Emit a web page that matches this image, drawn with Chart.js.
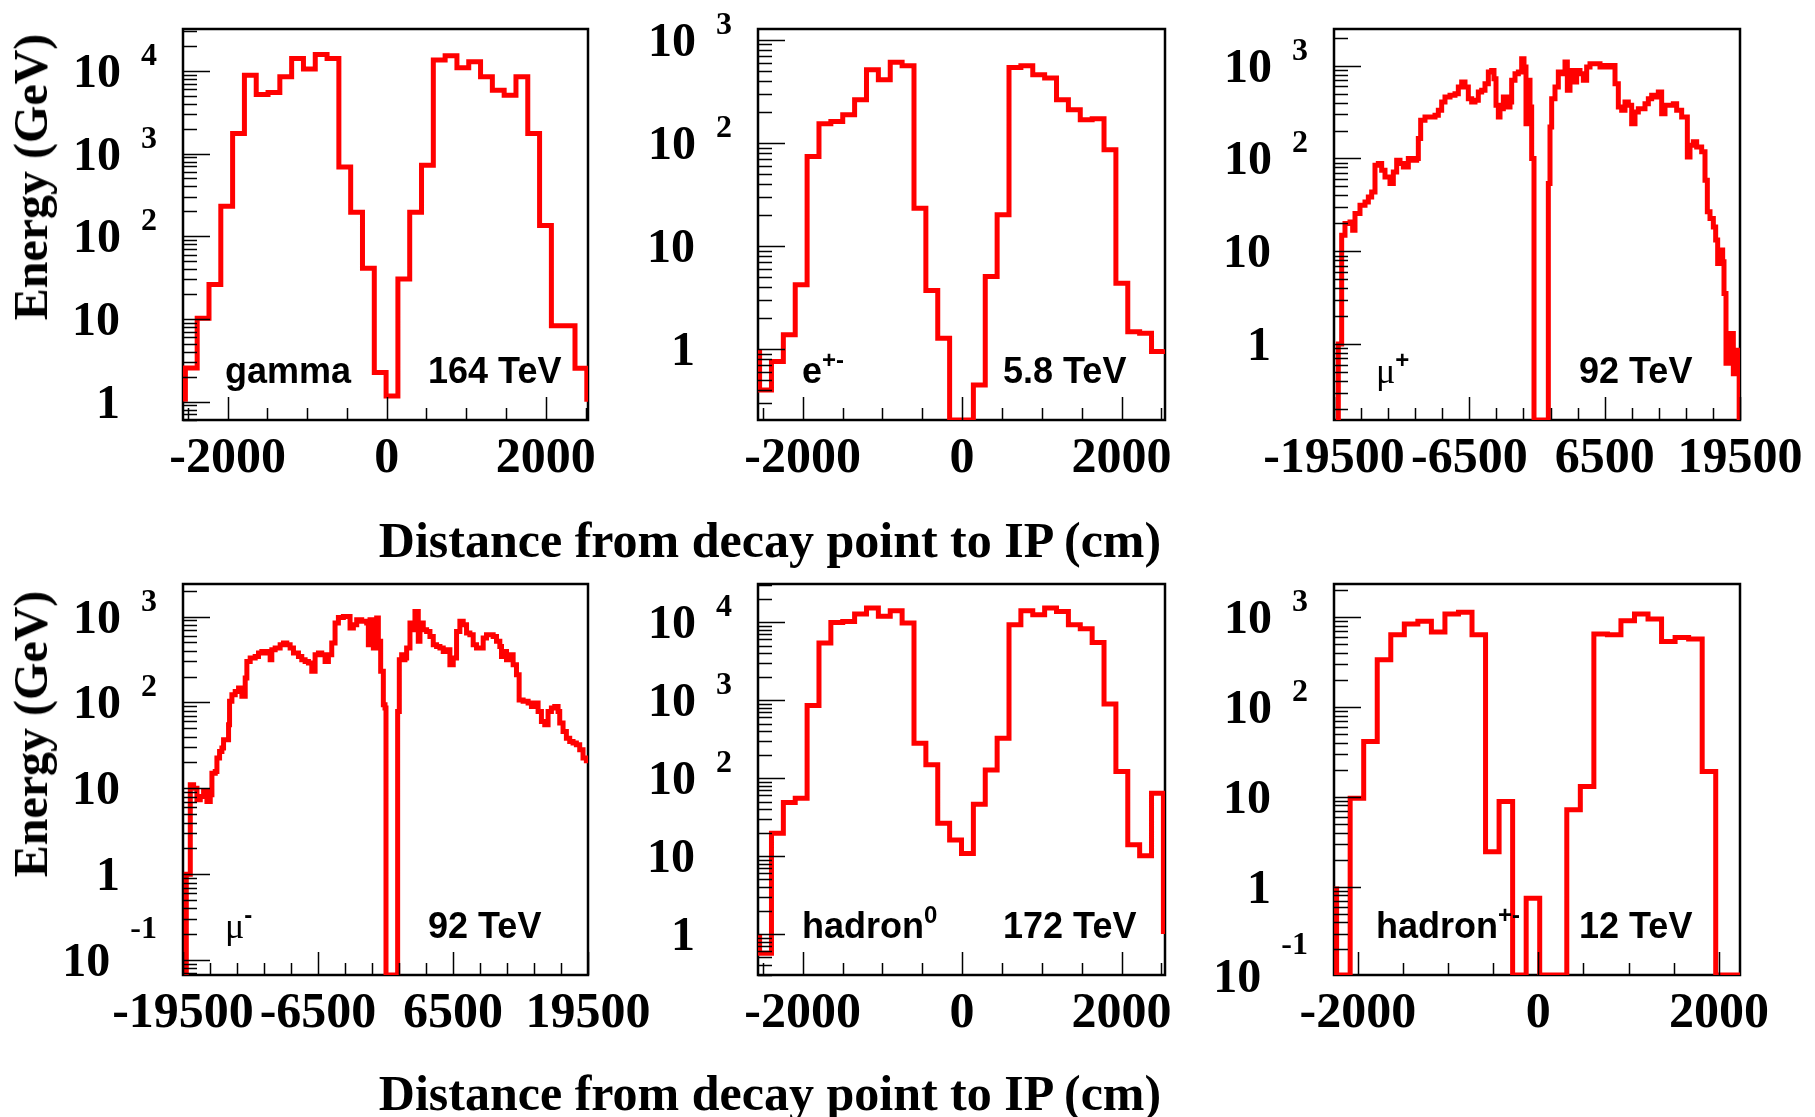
<!DOCTYPE html>
<html>
<head>
<meta charset="utf-8">
<title>Energy vs distance from decay point to IP</title>
<script src="https://cdn.jsdelivr.net/npm/chart.js@4.4.1/dist/chart.umd.min.js"></script>
<style>
  html, body { margin: 0; padding: 0; background: #fff; }
  #page { position: relative; width: 1815px; height: 1117px; overflow: hidden; background: #fff; }
  #page canvas { position: absolute; }
  .txt { position: absolute; white-space: nowrap; line-height: 1; color: #000; }
  .serif { font-family: "Liberation Serif", "Times New Roman", serif; font-weight: bold; }
  .sans { font-family: "Liberation Sans", Arial, sans-serif; font-weight: bold; font-size: 36px; }
  .sans sup { font-size: 24px; vertical-align: baseline; position: relative; top: -15px; }
  .mu { font-family: "Liberation Serif", "Times New Roman", serif; font-weight: normal; font-size: 36px; }
</style>
</head>
<body>
<div id="page"></div>
<script>
// ---- data ----

// tick labels
const shortXLabels = [-2000, 0, 2000];
const muonXLabels = [-19500, -6500, 6500, 19500];

// panel texts
const panelTags = ['gamma', 'e<sup>+-</sup>', '<span class="mu">\u03bc</span><sup>+</sup>',
                   '<span class="mu">\u03bc</span><sup>-</sup>', 'hadron<sup>0</sup>', 'hadron<sup>+-</sup>'];
const panelEnergy = ['164 TeV', '5.8 TeV', '92 TeV', '92 TeV', '172 TeV', '12 TeV'];

// gamma: 34 equal bins (GeV)
const gammaRange = [-2530, 2515];
const gammaEnds = [1, 1];
const gammaE = [2.56, 10.2, 26, 231, 1740, 8850, 5160, 5460, 8460, 14100, 10480, 15780, 14100,
  686, 195, 41, 2.25, 1.17, 30.4, 195, 719, 13460, 15200, 10870, 12850, 8460, 5830, 5070, 8460,
  1740, 135, 8.26, 8.26, 2.54];

// e+-: 34 equal bins
const elecRange = [-2540, 2525];
const elecEnds = [1, 1];
const elecE = [0.403, 0.76, 1.38, 4.21, 73.9, 153, 161, 187, 262, 512, 410, 603, 560, 23.3,
  3.71, 1.28, 0, 0, 0.45, 5.07, 20.1, 539, 560, 458, 425, 262, 210, 168, 171, 85.8, 4.37,
  1.48, 1.43, 0.95];

// hadron0: 34 equal bins
const had0Range = [-2540, 2525];
const had0Ends = [1, 1];
const had0E = [0.565, 19.6, 48.5, 55.1, 852, 5370, 9900, 10200, 12680, 15140, 11830, 13970,
  9710, 280, 147.6, 26.3, 16.1, 10.8, 46.1, 127, 324, 9240, 13970, 12420, 15140, 13700, 9240,
  8210, 5480, 887, 121, 13.9, 10.1, 63.8];

// hadron+-: 30 equal bins
const hadpmRange = [-2235, 2265];
const hadpmEnds = [1, 0];
const hadpmE = [0, 9.6, 41.2, 335, 636, 836, 896, 681, 1081, 1128, 636, 2.45, 8.85, 0, 0.74,
  0, 0, 7.15, 13, 648, 636, 912, 1081, 950, 536, 594, 569, 19.1, 0, 0];

// mu+: fine bins, bin start (cm) and content (GeV)
const muPlusX = [-19084, -18764, -18444, -17963, -17707, -17483, -17003, -16522, -16202, -15882,
  -15562, -15242, -14921, -14601, -14121, -13801, -13480, -13160, -12840, -12360, -11879, -11559,
  -11399, -11175, -10759, -10278, -9798, -9478, -9158, -8838, -8357, -7877, -7557, -7237, -6916,
  -6596, -6276, -5956, -5636, -5315, -4995, -4675, -4355, -4131, -3938, -3714, -3554, -3234,
  -2914, -2594, -2434, -2113, -1793, -1473, -1249, -1057, -833, -672, -512, -288,
  1089, 1249, 1409, 1729, 2049, 2369, 2690, 2914, 3170, 3490, 3810, 4131, 4451, 4771, 5091,
  5571, 6052, 6532, 7012, 7333, 7493, 7813, 8133, 8453, 8773, 9094, 9414, 9734, 10054, 10374,
  10695, 11015, 11335, 11655, 11975, 12296, 12616, 13096, 13416, 13897, 14377, 14441, 14697,
  15017, 15338, 15818, 16138, 16362, 16618, 16939, 17163, 17355, 17579, 17835, 17963, 18155,
  18380, 18860, 19116, 19340];
const muPlusE = [1.0, 14.9, 19.9, 20.7, 16.9, 25.5, 31.4, 34.0, 38.5, 43.6,
  84.5, 88.1, 74.7, 63.3, 53.6, 71.6, 95.6, 88.1, 81.1, 99.7, 95.6, 99.7,
  164, 258, 280, 280, 292, 330, 406, 460, 479, 499, 589, 667, 589,
  441, 406, 423, 520, 542, 640, 854, 890, 724, 374, 280, 344, 460,
  359, 406, 695, 819, 854, 1189, 967, 237, 695, 359, 99.7, 0,
  53.6, 218, 441, 589, 854, 819, 1094, 542, 890, 667, 890, 819, 695, 967, 1050,
  1050, 967, 1007, 967, 1007, 640, 359, 330, 406, 374, 237, 317, 344, 344, 390,
  441, 479, 460, 520, 304, 374, 374, 390, 330, 280, 280, 104, 139,
  151, 133, 118, 58.2, 26.6, 22.5, 18.3, 13.2, 7.38, 10.3, 7.7, 3.51, 0.62,
  1.30, 0.48, 0.86, 0.48];
const muPlusEnds = [0, 0];
const muPlusLast = 19420;

// mu-: fine bins
const muMinusX = [-19182, -18798, -18477, -18157, -17837, -17516, -17196, -16875, -16715, -16395,
  -16234, -15978, -15754, -15594, -15113, -15017, -14792, -14472, -14151, -13831, -13510, -13350,
  -13030, -12549, -12228, -11908, -11427, -11107, -10947, -10626, -10145, -9825, -9504, -9184,
  -8863, -8382, -8062, -7741, -7421, -7100, -6780, -6459, -6139, -5818, -5498, -5177, -4857,
  -4536, -4055, -3735, -3414, -3094, -2773, -2292, -1811, -1651, -1490, -1170, -849, -689, -465,
  -208, -48, 48,
  1170, 1330, 1554, 1715, 1875, 2035, 2356, 2676, 2837, 3157, 3317, 3638, 3958, 4279, 4599, 4920,
  5240, 5561, 5881, 6202, 6522, 6843, 7163, 7484, 7804, 8125, 8445, 8766, 9086, 9407, 9727,
  10048, 10368, 10689, 11009, 11169, 11330, 11650, 11971, 12291, 12612, 12868, 13253, 13733,
  14054, 14374, 14695, 15015, 15336, 15656, 15977, 16297, 16618, 16778, 17098, 17419, 17739,
  18060, 18380, 18701, 19021, 19342];
const muMinusE = [1.0, 11.0, 10.0, 7.35, 8.03, 9.19, 7.03, 8.40, 15.0, 15.7,
  22.5, 26.9, 29.4, 36.7, 55.0, 103, 123, 134, 147, 118, 192, 300,
  329, 343, 376, 393, 376, 314, 411, 430, 470, 491, 470, 430,
  376, 343, 314, 300, 287, 230, 359, 376, 359, 300, 359, 491, 840,
  977, 1004, 1004, 734, 803, 918, 879, 840, 470, 918, 430, 959, 514, 230,
  94, 85.9, 0,
  78.5, 314, 359, 314, 329, 430, 840, 703, 1148, 514, 840, 703, 671, 587, 470, 449,
  430, 393, 411, 275, 329, 671, 879, 803, 642, 614, 470, 430, 430, 562, 614,
  614, 587, 514, 449, 343, 393, 314, 359, 275, 210, 107, 103, 98.3,
  89.8, 98.3, 78.5, 60.1, 55.0, 78.5, 85.9, 89.8, 78.5, 57.5, 45.9, 38.4, 35.1,
  33.6, 32.1, 28.1, 22.5, 20.9];
const muMinusEnds = [0, 20.9];
const muMinusLast = 19500;

// y axis ranges and labelled decades per panel
const yRanges = [[0.61, 32000], [0.206, 1270], [0.152, 2485], [0.0671, 2393], [0.298, 30760], [0.1038, 2333]];
const yLabelExps = [[0, 1, 2, 3, 4], [0, 1, 2, 3], [0, 1, 2, 3], [-1, 0, 1, 2, 3], [0, 1, 2, 3, 4], [-1, 0, 1, 2, 3]];
const xRanges = [[-2560, 2530], [-2560, 2545], [-19500, 19500], [-19500, 19500], [-2560, 2545], [-2264, 2234]];

// ---- layout ----
const PAD = {left: 140, top: 20, right: 72, bottom: 70};
const frames = [
  {left: 183, top: 29, width: 405, height: 391},
  {left: 758, top: 29, width: 407, height: 391},
  {left: 1334, top: 29, width: 406, height: 391},
  {left: 183, top: 584, width: 405, height: 391},
  {left: 758, top: 584, width: 407, height: 391},
  {left: 1334, top: 584, width: 406, height: 391}
];
const RED = '#ff0000';
const SERIF = '"Liberation Serif", "Times New Roman", serif';

// step outline of an equal-bin histogram (point = left edge of its bin)
function histPoints(range, vals, ends, ymin) {
  const w = (range[1] - range[0]) / vals.length;
  const pts = [{x: range[0], y: ends[0]}];
  vals.forEach((v, i) => pts.push({x: range[0] + i * w, y: v}));
  pts.push({x: range[1], y: ends[1]});
  return pts.map(p => ({x: p.x, y: p.y > 0 ? p.y : ymin}));
}

// step outline from explicit bin starts
function stepPoints(xs, vals, ends, last, ymin) {
  const pts = [{x: xs[0], y: ends[0]}];
  xs.forEach((x, i) => pts.push({x: x, y: vals[i]}));
  pts.push({x: last, y: ends[1]});
  return pts.map(p => ({x: p.x, y: p.y > 0 ? p.y : ymin}));
}

// ROOT style frame, inward ticks and labels
const rootAxes = {
  id: 'rootAxes',
  beforeDatasetsDraw(chart) {
    const {ctx, chartArea: a} = chart;
    ctx.save();
    ctx.strokeStyle = '#000';
    ctx.lineWidth = 2.5;
    ctx.strokeRect(a.left, a.top, a.right - a.left, a.bottom - a.top);
    ctx.restore();
  },
  afterDatasetsDraw(chart, args, opts) {
    const {ctx, chartArea: a} = chart;
    const x = chart.scales.x, y = chart.scales.y;
    ctx.save();
    ctx.strokeStyle = '#000';
    ctx.lineWidth = 1.5;
    ctx.beginPath();
    // log y ticks
    const e0 = Math.floor(Math.log10(y.min)), e1 = Math.ceil(Math.log10(y.max));
    for (let e = e0; e <= e1; e++) {
      for (let k = 1; k <= 9; k++) {
        const v = k * Math.pow(10, e);
        if (v < y.min || v > y.max) continue;
        const py = Math.round(y.getPixelForValue(v)) + 0.5;
        ctx.moveTo(a.left, py);
        ctx.lineTo(a.left + (k === 1 ? 27 : 14), py);
      }
    }
    // x ticks
    const labs = opts.xLabels, step = opts.xStep;
    for (let k = -60; k <= 60; k++) {
      const v = labs[0] + k * step;
      if (v < x.min - 1 || v > x.max + 1) continue;
      const major = labs.some(l => Math.abs(l - v) < 1);
      const px = Math.round(x.getPixelForValue(v)) + 0.5;
      ctx.moveTo(px, a.bottom);
      ctx.lineTo(px, a.bottom - (major ? 23 : 12));
    }
    ctx.stroke();

    ctx.fillStyle = '#000';
    ctx.textBaseline = 'alphabetic';
    // x labels
    ctx.font = 'bold 50px ' + SERIF;
    ctx.textAlign = 'center';
    labs.forEach(v => ctx.fillText(String(v), x.getPixelForValue(v), a.bottom + 52));
    // y labels
    ctx.textAlign = 'right';
    opts.yExps.forEach(e => {
      const py = y.getPixelForValue(Math.pow(10, e));
      if (e === 0 || e === 1) {
        ctx.font = 'bold 48px ' + SERIF;
        ctx.fillText(e === 0 ? '1' : '10', a.left - 63, py + 16);
      } else {
        const sup = String(e);
        ctx.font = 'bold 32px ' + SERIF;
        const w = ctx.measureText(sup).width;
        ctx.fillText(sup, a.left - 26, py - (e < 0 ? 22 : 6));
        ctx.font = 'bold 48px ' + SERIF;
        ctx.fillText('10', a.left - 26 - w - 20, py + 16);
      }
    });
    ctx.restore();
  }
};

const page = document.getElementById('page');

const panelData = [
  histPoints(gammaRange, gammaE, gammaEnds, yRanges[0][0]),
  histPoints(elecRange, elecE, elecEnds, yRanges[1][0]),
  stepPoints(muPlusX, muPlusE, muPlusEnds, muPlusLast, yRanges[2][0]),
  stepPoints(muMinusX, muMinusE, muMinusEnds, muMinusLast, yRanges[3][0]),
  histPoints(had0Range, had0E, had0Ends, yRanges[4][0]),
  histPoints(hadpmRange, hadpmE, hadpmEnds, yRanges[5][0])
];

frames.forEach((f, i) => {
  const cv = document.createElement('canvas');
  const w = f.width + PAD.left + PAD.right, h = f.height + PAD.top + PAD.bottom;
  cv.width = w; cv.height = h;
  cv.style.width = w + 'px'; cv.style.height = h + 'px';
  cv.style.left = (f.left - PAD.left) + 'px';
  cv.style.top = (f.top - PAD.top) + 'px';
  page.appendChild(cv);

  const muon = (i === 2 || i === 3);
  new Chart(cv, {
    type: 'line',
    data: {
      datasets: [{
        data: panelData[i],
        borderColor: RED,
        borderWidth: 5,
        // horizontal at the previous value, then vertical: histogram outline
        stepped: 'before',
        pointRadius: 0,
        fill: false,
        tension: 0,
        borderJoinStyle: 'miter',
        borderCapStyle: 'butt'
      }]
    },
    options: {
      responsive: false,
      devicePixelRatio: 1,
      animation: false,
      events: [],
      layout: {padding: PAD},
      plugins: {
        legend: {display: false},
        tooltip: {enabled: false},
        rootAxes: {
          xLabels: muon ? muonXLabels : shortXLabels,
          xStep: muon ? 2600 : 500,
          yExps: yLabelExps[i]
        }
      },
      scales: {
        x: {type: 'linear', min: xRanges[i][0], max: xRanges[i][1], display: false},
        y: {type: 'logarithmic', min: yRanges[i][0], max: yRanges[i][1], display: false}
      }
    },
    plugins: [rootAxes]
  });

  // in-panel labels
  const base = f.top + f.height - 37;
  const tag = document.createElement('div');
  tag.className = 'txt sans';
  tag.innerHTML = panelTags[i];
  tag.style.left = (f.left + (i === 1 || i === 4 ? 44 : 42)) + 'px';
  tag.style.top = (base - 30.5) + 'px';
  page.appendChild(tag);

  const en = document.createElement('div');
  en.className = 'txt sans';
  en.textContent = panelEnergy[i];
  en.style.left = (f.left + 245) + 'px';
  en.style.top = (base - 30.5) + 'px';
  page.appendChild(en);
});

// axis titles
[177, 734].forEach(cy => {
  const d = document.createElement('div');
  d.className = 'txt serif';
  d.style.fontSize = '48px';
  d.textContent = 'Energy (GeV)';
  d.style.left = '31px';
  d.style.top = cy + 'px';
  d.style.transform = 'translate(-50%, -50%) rotate(-90deg)';
  page.appendChild(d);
});
[515, 1068].forEach(top => {
  const d = document.createElement('div');
  d.className = 'txt serif';
  d.style.fontSize = '50px';
  d.textContent = 'Distance from decay point to IP (cm)';
  d.style.left = '770px';
  d.style.top = top + 'px';
  d.style.transform = 'translateX(-50%)';
  page.appendChild(d);
});
</script>
</body>
</html>
